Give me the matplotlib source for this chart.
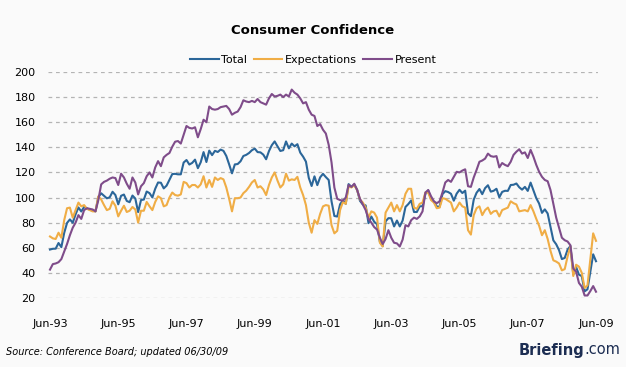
import matplotlib
matplotlib.use("Agg")
import matplotlib.pyplot as plt

# monthly values, Jun-93 .. Jun-09
total = [
    58.6, 59.2, 59.3, 63.8, 60.5, 71.9, 79.8,
    82.6, 79.9, 86.7, 92.1, 88.9, 92.5, 91.3, 90.4, 89.5, 89.1, 100.4, 103.4,
    101.4, 99.4, 100.2, 104.6, 102.0, 94.6, 101.4, 102.4, 97.3, 96.3, 101.6, 99.2,
    88.4, 98.0, 98.4, 104.8, 103.5, 100.1, 107.0, 112.0, 111.8, 107.3, 109.5, 114.2,
    118.7, 118.9, 118.5, 118.5, 127.9, 129.9, 126.3, 127.6, 130.2, 123.4, 128.1, 136.2,
    128.3, 137.4, 133.8, 137.2, 136.3, 138.2, 137.2, 133.1, 126.4, 119.3, 126.4, 126.7,
    128.9, 133.1, 134.0, 135.5, 137.7, 139.0, 136.2, 136.0, 134.2, 130.5, 137.0, 141.7,
    144.7, 140.8, 137.1, 137.7, 144.7, 139.2, 143.0, 140.8, 142.5, 135.8, 132.6, 128.6,
    115.7, 109.2, 116.9, 109.9, 116.1, 118.9, 116.3, 114.0, 97.0, 85.3, 84.9, 94.6,
    97.8, 95.0, 110.7, 108.5, 110.3, 106.3, 97.4, 94.5, 93.7, 79.6, 84.9, 80.7,
    78.8, 64.8, 61.4, 81.0, 83.6, 83.5, 77.0, 81.7, 77.0, 81.7, 92.5, 94.8,
    97.7, 88.5, 88.5, 93.0, 93.1, 102.8, 105.7, 98.7, 96.7, 92.9, 92.6, 102.7,
    105.1, 104.4, 103.0, 97.5, 103.1, 106.2, 103.6, 105.5, 87.5, 85.2, 98.3, 103.8,
    106.8, 102.7, 107.5, 109.8, 104.7, 105.4, 107.0, 100.2, 104.5, 105.4, 105.3, 110.0,
    110.2, 111.2, 108.2, 106.3, 108.5, 105.3, 111.9, 105.6, 99.5, 95.2, 87.8, 90.6,
    87.3, 76.4, 65.9, 62.8, 58.1, 51.0, 51.9, 58.5, 61.4, 38.8, 44.7, 38.6,
    37.4, 25.3, 26.9, 40.8, 54.8, 49.3,
]

expectations = [
    69.0, 67.5, 67.0, 72.0, 68.0, 82.0, 91.5,
    92.0, 84.0, 90.0, 96.0, 93.0, 94.0, 91.0, 90.0, 89.0, 89.0, 101.0, 98.5,
    94.0, 90.0, 91.0, 97.0, 93.5, 85.0, 89.5, 93.5, 88.5, 89.5, 92.5, 90.5,
    80.0, 89.5, 89.5, 96.5, 93.0, 90.0, 96.5, 101.0, 99.5, 93.0, 94.0, 100.0,
    104.0, 102.0, 101.5, 102.5, 112.5, 111.5, 108.0, 110.0, 110.0, 108.0, 110.5, 117.0,
    108.0, 114.0, 108.5, 116.0, 114.0, 115.5, 114.5, 108.0, 99.0, 89.0, 99.5, 99.5,
    100.0, 103.5, 105.5, 108.5, 112.0, 114.0, 108.0, 109.0, 106.5, 102.0, 110.0, 116.0,
    120.0, 113.5, 108.0, 110.5, 119.0, 113.5, 114.5, 114.0, 116.5, 108.0, 102.0, 94.0,
    80.0, 72.0, 82.0, 79.0, 87.0, 93.0, 94.0, 93.5, 78.0, 71.5, 73.5, 90.0,
    96.5, 95.0, 109.0, 108.0, 110.0, 106.0, 98.5, 96.0, 92.0, 84.0, 89.0, 88.0,
    84.0, 64.0, 61.0, 88.0, 92.0, 96.0, 89.0, 94.0, 89.0, 94.0, 103.0, 107.0,
    107.0, 92.0, 91.0, 95.0, 96.0, 104.0, 104.0, 98.0, 96.0, 91.5, 92.0, 99.5,
    99.0, 97.5, 96.0, 89.0, 92.0, 96.0, 93.0, 92.0, 74.0, 70.5, 86.0, 91.5,
    93.0, 86.0, 90.0, 92.0, 87.0, 89.0, 89.5, 85.0, 90.0, 91.0, 92.0, 97.0,
    95.5, 94.5, 89.0, 89.5, 90.0, 89.0, 94.0, 89.0, 83.0, 77.5, 70.0, 74.0,
    67.0, 57.5, 50.0, 49.0, 47.5, 42.0, 43.0, 53.0, 61.0, 37.5, 46.5, 45.0,
    40.0, 28.0, 30.0, 51.0, 71.5, 65.5,
]

present = [
    42.6, 47.0, 47.5, 48.5, 51.0, 57.0, 63.0,
    70.0, 76.0, 80.0, 86.0, 83.0, 90.0, 91.5, 91.0, 90.5, 89.0, 98.0, 110.5,
    112.5, 113.5, 115.0, 116.0, 115.5, 110.0, 119.0, 116.0, 111.0, 107.0, 116.0, 112.0,
    102.5, 109.0, 111.5, 117.0, 120.0, 116.0, 124.0, 129.0, 125.0, 132.0, 134.0, 135.5,
    140.5, 144.5, 145.0, 143.0, 150.0, 157.0, 155.5, 155.0, 156.0, 148.0, 154.5, 162.0,
    160.0, 172.5, 170.5, 170.0, 170.5, 172.0, 172.5, 173.0, 170.5, 166.0, 167.5, 168.5,
    172.0, 177.5, 176.5, 176.0, 177.0, 176.0, 178.5, 176.0, 175.0, 174.0, 179.0, 182.5,
    180.5, 181.0, 182.0, 180.0, 182.0, 180.5, 186.0, 183.5, 182.0, 179.0, 175.0, 176.0,
    170.0, 166.0, 165.0, 157.0, 158.5, 154.0, 151.0, 142.0, 128.0, 108.0, 99.0, 98.0,
    97.5, 100.0, 110.0, 108.5, 111.0, 106.0, 99.0, 94.5, 90.0, 83.0, 80.0, 76.5,
    74.5, 68.0, 63.0, 67.0, 74.0, 68.0, 64.0, 63.5, 61.0, 66.5, 78.0, 77.0,
    82.0, 84.0, 83.0, 85.0, 89.0, 104.0, 106.0, 101.0, 97.0, 95.5, 97.0, 104.0,
    112.0, 114.0, 112.5, 116.5, 120.5, 120.0, 121.5, 122.5, 109.0, 108.5, 116.0, 122.0,
    128.5, 129.5, 131.0, 135.0, 133.0, 132.5, 133.0, 124.0, 127.5, 126.0, 125.0, 128.5,
    134.0, 136.5, 138.5, 135.0, 136.0, 131.5, 138.0, 132.5, 126.0, 120.5, 116.5, 114.0,
    113.0, 106.0, 95.0, 84.0, 76.0, 68.0, 66.0, 65.0, 62.0, 43.5, 41.0, 32.0,
    29.0, 22.0, 22.0, 25.5, 29.5, 25.0,
]

tick_labels = ["Jun-93", "Jun-95", "Jun-97", "Jun-99", "Jun-01",
               "Jun-03", "Jun-05", "Jun-07", "Jun-09"]
y_ticks = [20, 40, 60, 80, 100, 120, 140, 160, 180, 200]

bg = "#fafafa"
fig = plt.figure(figsize=(6.26, 3.67), dpi=100, facecolor=bg)
ax = fig.add_axes([48 / 626, 69 / 367, 550 / 626, 226 / 367], facecolor=bg)

months = list(range(len(total)))
ax.plot(months, total, color="#2b6699", lw=1.5, label="Total")
ax.plot(months, expectations, color="#f0ad45", lw=1.5, label="Expectations")
ax.plot(months, present, color="#7f4c8a", lw=1.5, label="Present")

ax.set_xlim(-0.7, 192.7)
ax.set_ylim(20, 200)
ax.set_yticks(y_ticks)
ax.set_xticks(range(0, 193, 24))
ax.set_xticklabels(tick_labels)
ax.tick_params(length=0, labelsize=8, colors="#000000")
ax.tick_params(axis="x", pad=15)
ax.tick_params(axis="y", pad=9)
for s in ax.spines.values():
    s.set_visible(False)
ax.grid(axis="y", color="#b4b4b4", linestyle=(0, (3, 3)), lw=0.9)
ax.set_axisbelow(True)
for ln in ax.lines:
    ln.set_clip_on(False)

fig.text(0.5, 1 - 31 / 367, "Consumer Confidence", ha="center", va="center",
         fontsize=9.5, fontweight="bold")
fig.legend(loc="center", bbox_to_anchor=(0.5, 1 - 60 / 367), ncol=3,
           frameon=False, fontsize=8, handlelength=2.6, handletextpad=0.2,
           columnspacing=0.6)

fig.text(6 / 626, 1 - 352 / 367, "Source: Conference Board; updated 06/30/09",
         fontsize=7, style="italic", va="center")
fig.text(584 / 626, 1 - 350 / 367, "Briefing", fontsize=10.5, fontweight="bold",
         color="#1c2d52", ha="right", va="center")
fig.text(584 / 626, 1 - 350 / 367, ".com", fontsize=10.5,
         color="#1c2d52", ha="left", va="center")

fig.savefig("out.png", dpi=100, facecolor=bg)
